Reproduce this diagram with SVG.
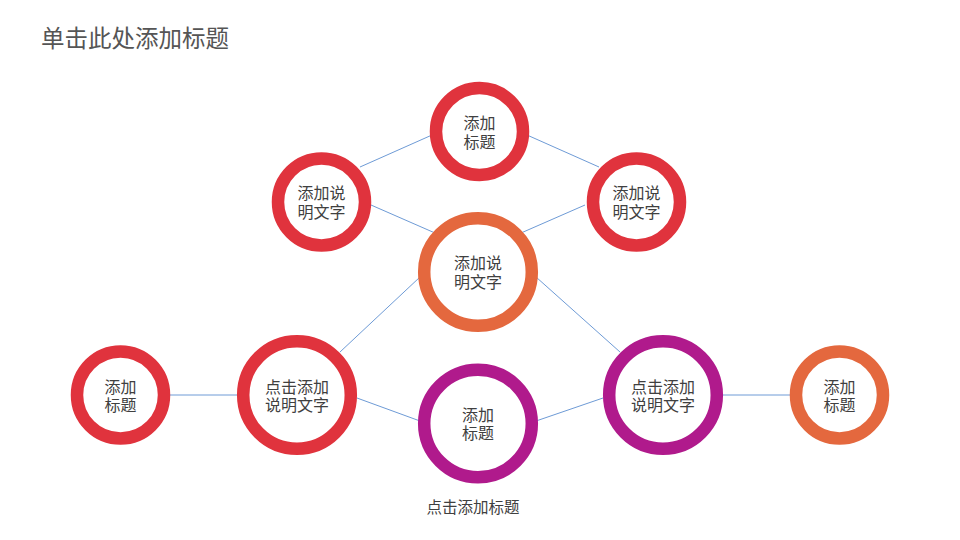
<svg xmlns="http://www.w3.org/2000/svg" width="960" height="540" viewBox="0 0 960 540">
<style>
text{font-family:"Noto Sans CJK SC","Microsoft YaHei",sans-serif;fill:#404040;text-anchor:middle;dominant-baseline:central}
.t{font-size:16px}
.red{stroke:#E0333D}
.org{stroke:#E4683E}
.pur{stroke:#B01A8C}
circle{fill:#fff;stroke-width:12.5}
#connectors line{stroke:#6E9BD6;stroke-width:1}
</style>
<rect width="960" height="540" fill="#fff"/>
<text x="41" y="37" style="font-size:23.5px;text-anchor:start;fill:#555">单击此处添加标题</text>
<g id="connectors">
<line x1="360" y1="167" x2="432" y2="135"/>
<line x1="527" y1="135" x2="599" y2="167"/>
<line x1="371" y1="205" x2="435" y2="233"/>
<line x1="521" y1="233" x2="585" y2="205"/>
<line x1="420" y1="277" x2="340" y2="352"/>
<line x1="536" y1="277" x2="620" y2="352"/>
<line x1="357" y1="398" x2="420" y2="421"/>
<line x1="536" y1="421" x2="603" y2="398"/>
<line x1="168" y1="395" x2="239" y2="395"/>
<line x1="721" y1="395" x2="792" y2="395"/>
</g>
<g id="n-top"><circle class="red" cx="479.5" cy="131.5" r="43.5"/><text class="t" x="479.5" y="122"><tspan x="479.5">添加</tspan><tspan x="479.5" dy="19">标题</tspan></text></g>
<g id="n-lu"><circle class="red" cx="321.5" cy="202" r="43.5"/><text class="t" x="321.5" y="192"><tspan x="321.5">添加说</tspan><tspan x="321.5" dy="19">明文字</tspan></text></g>
<g id="n-ru"><circle class="red" cx="636.5" cy="202" r="43.5"/><text class="t" x="636.5" y="192"><tspan x="636.5">添加说</tspan><tspan x="636.5" dy="19">明文字</tspan></text></g>
<g id="n-center"><circle class="org" cx="478" cy="272" r="53.8"/><text class="t" x="478" y="262"><tspan x="478">添加说</tspan><tspan x="478" dy="19">明文字</tspan></text></g>
<g id="n-lm"><circle class="red" cx="297" cy="395" r="53.8"/><text class="t" x="297" y="385.5"><tspan x="297">点击添加</tspan><tspan x="297" dy="18">说明文字</tspan></text></g>
<g id="n-rm"><circle class="pur" cx="663" cy="395" r="53.8"/><text class="t" x="663" y="385.5"><tspan x="663">点击添加</tspan><tspan x="663" dy="18">说明文字</tspan></text></g>
<g id="n-bottom"><circle class="pur" cx="478" cy="423.5" r="53.8"/><text class="t" x="478" y="414"><tspan x="478">添加</tspan><tspan x="478" dy="18">标题</tspan></text></g>
<g id="n-fl"><circle class="red" cx="120.5" cy="395" r="43.5"/><text class="t" x="120.5" y="385.5"><tspan x="120.5">添加</tspan><tspan x="120.5" dy="18">标题</tspan></text></g>
<g id="n-fr"><circle class="org" cx="839.5" cy="395" r="43.5"/><text class="t" x="839.5" y="385.5"><tspan x="839.5">添加</tspan><tspan x="839.5" dy="18">标题</tspan></text></g>
<text x="473" y="506" style="font-size:15.5px">点击添加标题</text>
</svg>
